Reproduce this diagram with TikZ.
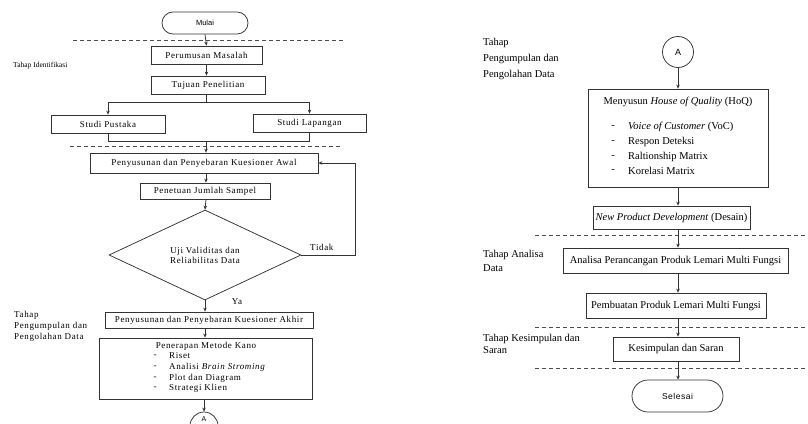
\documentclass[tikz,border=0pt]{standalone}
\usepackage{fontspec}
\setmainfont{Liberation Serif}
\newfontfamily\lsp[LetterSpace=7]{Liberation Serif}
\newfontfamily\sansf{Liberation Sans}
\newfontfamily\sansl[LetterSpace=6]{Liberation Sans}
\usetikzlibrary{shapes.geometric,arrows.meta}
\begin{document}
\begin{tikzpicture}[x=1pt,y=-1pt,
 box/.style={draw=black!80, line width=0.75pt, inner sep=0pt, align=center},
 lbox/.style={box, font=\lsp\fontsize{9}{10}\selectfont},
 rbox/.style={box, font=\fontsize{10.5}{12}\selectfont},
 ltxt/.style={inner sep=0pt, font=\lsp\fontsize{9}{10}\selectfont},
 rtxt/.style={inner sep=0pt, font=\fontsize{10.5}{12}\selectfont},
 term/.style={draw=black!80, line width=0.75pt, inner sep=0pt},
 arr/.style={-{Stealth[length=4pt,width=3.5pt]}, line width=0.75pt, draw=black!80},
 ln/.style={line width=0.75pt, draw=black!80},
 dline/.style={line width=0.6pt, dash pattern=on 4pt off 3pt, draw=black!70}]
\useasboundingbox (0,0) rectangle (808,423);

% ---------------- left column ----------------
\node[term, minimum width=86, minimum height=22, rounded corners=11, font=\sansf\fontsize{7.5}{8}\selectfont] (mulai) at (205,23) {Mulai};
\draw[dline] (73,40) -- (345,40);
\node[lbox, minimum width=111, minimum height=18] (pm) at (206.5,55) {Perumusan Masalah};
\node[inner sep=0pt, anchor=west, font=\fontsize{7.5}{8}\selectfont] (tid) at (13,66) {Tahap Identifikasi};
\node[lbox, minimum width=114, minimum height=18] (tp) at (208,85) {Tujuan Penelitian};
\node[lbox, minimum width=114, minimum height=18] (sp) at (108,124) {Studi Pustaka};
\node[lbox, minimum width=113, minimum height=18] (sl) at (309.5,123) {Studi Lapangan};
\coordinate (split) at (206,102);
\coordinate (join) at (206,141);
\draw[dline] (70,146) -- (340,146);
\node[lbox, minimum width=228, minimum height=20] (pa) at (204,163) {Penyusunan dan Penyebaran Kuesioner Awal};
\node[lbox, minimum width=130, minimum height=16] (pj) at (205,191) {Penetuan Jumlah Sampel};
\node[diamond, draw=black!80, line width=0.75pt, inner sep=0pt, aspect=2.13, minimum width=192, minimum height=90, align=center, font=\lsp\fontsize{9}{10}\selectfont] (dv) at (205,255) {Uji Validitas dan\\Reliabilitas Data};
\node[ltxt, anchor=west] (tidak) at (310,247) {Tidak};
\node[ltxt] (ya) at (237,302) {Ya};
\node[lbox, minimum width=208, minimum height=16] (pak) at (209,320) {Penyusunan dan Penyebaran Kuesioner Akhir};
\node[inner sep=0pt, anchor=north west, align=left, font=\lsp\fontsize{9}{11}\selectfont] (tpl) at (14,311) {Tahap\\Pengumpulan dan\\Pengolahan Data};
\node[box, minimum width=213, minimum height=61] (kano) at (205.5,368.5) {};
\node[ltxt] (k0) at (206,346) {Penerapan Metode Kano};
\node[ltxt] (d1) at (155,356) {-};
\node[ltxt] (d2) at (155,367) {-};
\node[ltxt] (d3) at (155,378) {-};
\node[ltxt] (d4) at (155,388) {-};
\node[ltxt, anchor=west] (k1) at (169,356) {Riset};
\node[ltxt, anchor=west] (k2) at (169,367) {Analisi \textit{Brain Stroming}};
\node[ltxt, anchor=west] (k3) at (169,378) {Plot dan Diagram};
\node[ltxt, anchor=west] (k4) at (169,388) {Strategi Klien};
\node[circle, draw=black!80, line width=0.75pt, minimum size=28, inner sep=0pt] (a1) at (204,426) {};
\node[inner sep=0pt, font=\sansf\fontsize{7}{8}\selectfont] (a1t) at (204,419.5) {A};

\draw[arr] (mulai.south) -- (pm.north);
\draw[arr] (pm.south) -- (pm.south |- tp.north);
\draw[ln] (tp.south -| split) -- (split);
\draw[ln] (sp.north |- split) -- (sl.north |- split);
\draw[arr] (sp.north |- split) -- (sp.north);
\draw[arr] (sl.north |- split) -- (sl.north);
\draw[ln] (sp.south) -- (sp.south |- join) -- (sl.south |- join) -- (sl.south);
\draw[arr] (join) -- (join |- pa.north);
\draw[arr] (join |- pa.south) -- (join |- pj.north);
\draw[arr] (join |- pj.south) -- (dv.north);
\draw[arr] (dv.east) -- (355,255) |- (pa.east);
\draw[arr] (dv.south) -- (dv.south |- pak.north);
\draw[arr] (dv.south |- pak.south) -- (dv.south |- kano.north);
\draw[arr] (a1.north |- kano.south) -- (a1.north);

% ---------------- right column ----------------
\node[inner sep=0pt, anchor=north west, align=left, font=\fontsize{10.5}{16}\selectfont] (tpr) at (483,38) {Tahap\\Pengumpulan dan\\Pengolahan Data};
\node[circle, draw=black!80, line width=0.75pt, minimum size=31, inner sep=0pt, font=\sansf\fontsize{9}{10}\selectfont] (a2) at (678,52) {A};
\node[box, minimum width=180, minimum height=98] (hoq) at (678,138) {};
\node[rtxt] (h0) at (678,102) {Menyusun \textit{House of Quality} (HoQ)};
\node[rtxt] (e1) at (613,127) {-};
\node[rtxt] (e2) at (613,142) {-};
\node[rtxt] (e3) at (613,157) {-};
\node[rtxt] (e4) at (613,171) {-};
\node[rtxt, anchor=west] (h1) at (628,127) {\textit{Voice of Customer} (VoC)};
\node[rtxt, anchor=west] (h2) at (628,142) {Respon Deteksi};
\node[rtxt, anchor=west] (h3) at (628,157) {Raltionship Matrix};
\node[rtxt, anchor=west] (h4) at (628,171) {Korelasi Matrix};
\node[rbox, minimum width=157, minimum height=23] (npd) at (671.5,217.5) {\textit{New Product Development} (Desain)};
\draw[dline] (535,235) -- (808,235);
\node[rbox, minimum width=225, minimum height=25] (an) at (675.5,260.5) {Analisa Perancangan Produk Lemari Multi Fungsi};
\node[inner sep=0pt, anchor=north west, align=left, font=\fontsize{10.5}{14}\selectfont] (tar) at (483,250) {Tahap Analisa\\Data};
\node[rbox, minimum width=180, minimum height=25] (pb) at (676,305.5) {Pembuatan Produk Lemari Multi Fungsi};
\draw[dline] (535,327) -- (808,327);
\node[rbox, minimum width=126, minimum height=24] (ks) at (676,349) {Kesimpulan dan Saran};
\node[inner sep=0pt, anchor=north west, align=left, font=\fontsize{10.5}{12}\selectfont] (tks) at (483,334) {Tahap Kesimpulan dan\\Saran};
\draw[dline] (535,368) -- (808,368);
\node[term, minimum width=91, minimum height=32, rounded corners=16, font=\sansl\fontsize{8.5}{9}\selectfont] (sel) at (677.5,396) {Selesai};

\draw[arr] (a2.south) -- (a2.south |- hoq.north);
\draw[arr] (a2 |- hoq.south) -- (a2 |- npd.north);
\draw[arr] (a2 |- npd.south) -- (a2 |- an.north);
\draw[arr] (a2 |- an.south) -- (a2 |- pb.north);
\draw[arr] (a2 |- pb.south) -- (a2 |- ks.north);
\draw[arr] (a2 |- ks.south) -- (a2 |- sel.north);
\end{tikzpicture}
\end{document}
